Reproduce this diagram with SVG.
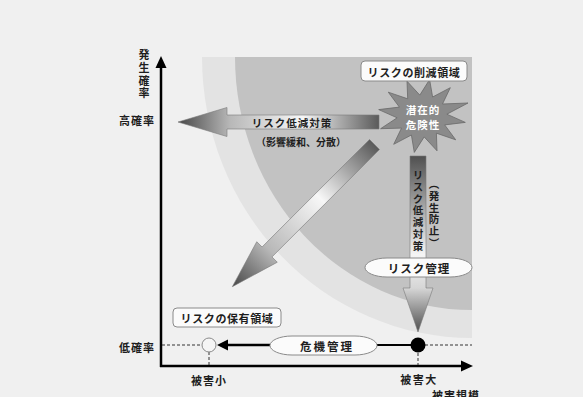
<svg xmlns="http://www.w3.org/2000/svg" width="583" height="397" viewBox="0 0 583 397">
<style>
  text { font-family: "Noto Sans CJK JP", "Noto Sans CJK SC", sans-serif; font-weight: 700; fill: #1e1e1e; font-size: 11px; }
  .c { text-anchor: middle; dominant-baseline: central; }
  .v { writing-mode: vertical-rl; text-anchor: middle; }
  .box { fill: #fbfbfb; stroke: #8a8a8a; stroke-width: 1; }
  .dash { stroke: #333; stroke-width: 1; stroke-dasharray: 3 2; fill: none; }
  .arrow { stroke: #7a7a7a; stroke-width: 0.6; }
</style>
<defs>
  <linearGradient id="gArrow" x1="0" y1="0" x2="1" y2="0">
    <stop offset="0" stop-color="#5a5a5a"/>
    <stop offset="0.38" stop-color="#f7f7f7"/>
    <stop offset="0.74" stop-color="#b8b8b8"/>
    <stop offset="1" stop-color="#474747"/>
  </linearGradient>
  <linearGradient id="gDown" x1="0" y1="0" x2="0" y2="1">
    <stop offset="0" stop-color="#505050"/>
    <stop offset="0.56" stop-color="#f5f5f5"/>
    <stop offset="0.75" stop-color="#d6d6d6"/>
    <stop offset="1" stop-color="#4e4e4e"/>
  </linearGradient>
</defs>
<rect width="583" height="397" fill="#f0f0f0"/>

<g id="zone-bands">
  <path d="M472,57 L202,57 A270,281 0 0 0 472,338 Z" fill="#e3e3e3"/>
  <path d="M472,57 L235,57 A237,253 0 0 0 472,310 Z" fill="#c2c2c2"/>
</g>

<g id="axes">
  <line x1="161" y1="367" x2="161" y2="66" stroke="#000" stroke-width="2.5"/>
  <polygon points="161,56 155.5,68 166.5,68" fill="#000"/>
  <line x1="160" y1="366" x2="463" y2="366" stroke="#000" stroke-width="2.5"/>
  <polygon points="473,366 461,360.5 461,371.5" fill="#000"/>
  <text class="v" x="144" y="75" style="letter-spacing:1.7px">発生確率</text>
  <text class="c" x="137" y="120" style="letter-spacing:1px">高確率</text>
  <text class="c" x="137" y="347" style="letter-spacing:1px">低確率</text>
  <text class="c" x="209" y="380" style="letter-spacing:1px">被害小</text>
  <text class="c" x="419" y="379" style="letter-spacing:1.5px">被害大</text>
  <text class="c" x="456" y="395" style="letter-spacing:1px">被害規模</text>
</g>

<g id="connectors">
  <g id="arrow-left" transform="translate(379,122) rotate(180)">
    <polygon class="arrow" points="0,-7 152,-7 152,-14.5 201,0 152,14.5 152,7 0,7" fill="url(#gArrow)"/>
  </g>
  <g id="arrow-diag" transform="translate(374.5,144.5) rotate(135)">
    <polygon class="arrow" points="0,-7 152,-7 152,-14.5 201,0 152,14.5 152,7 0,7" fill="url(#gArrow)"/>
  </g>
  <polygon id="arrow-down" class="arrow" points="410,156 426,156 426,288 433,288 418,332 403,288 410,288" fill="url(#gDown)"/>
  <line class="dash" x1="162" y1="345" x2="202" y2="345"/>
  <line class="dash" x1="425" y1="345" x2="472" y2="345"/>
  <line class="dash" x1="209" y1="352" x2="209" y2="365"/>
  <line class="dash" x1="418" y1="353" x2="418" y2="365"/>
  <line x1="270" y1="345" x2="226" y2="345" stroke="#000" stroke-width="2.5"/>
  <polygon points="217,345 228,339.5 228,350.5" fill="#000"/>
  <line x1="377" y1="345" x2="412" y2="345" stroke="#000" stroke-width="2"/>
</g>

<g id="arrow-labels">
  <text class="c" x="292" y="122" style="letter-spacing:1px;font-size:10.5px">リスク低減対策</text>
  <text class="c" x="301" y="141" style="font-size:10px">（影響緩和、分散）</text>
  <text class="v" x="418" y="211" style="letter-spacing:1.3px;font-size:10.5px">リスク低減対策</text>
  <text class="v" x="434" y="214" style="letter-spacing:1.2px;font-size:10.5px">（発生防止）</text>
</g>

<g id="hazard">
  <polygon points="429.6,79.6 432.6,97 450.3,87.7 442.5,104 468,103 446.9,114.2 465.3,122.4 444.7,124.9 455.7,139.8 436.4,133.2 437,150.8 424.2,136.9 414.3,152.4 411.4,135 393.7,144.3 401.5,128.1 380.6,128.7 397.1,117.8 378.7,109.6 399.4,107.1 388.3,92.2 407.7,98.8 407,81.2 419.8,95.1" fill="#8a8a8a" stroke="#6a6a6a" stroke-width="0.8"/>
  <text class="c" x="423" y="109" style="fill:#fff;letter-spacing:1px;font-size:10.5px">潜在的</text>
  <text class="c" x="423" y="124" style="fill:#fff;letter-spacing:1px;font-size:10.5px">危険性</text>
</g>

<g id="zone-reduce-label">
  <rect class="box" x="361" y="61" width="106" height="20" rx="4"/>
  <text class="c" x="414" y="71.5" style="letter-spacing:0.6px">リスクの削減領域</text>
</g>

<g id="zone-retain-label">
  <rect class="box" x="173" y="308" width="108" height="19" rx="4"/>
  <text class="c" x="227" y="317.5" style="letter-spacing:0.6px">リスクの保有領域</text>
</g>

<g id="risk-management">
  <rect class="box" x="365" y="258" width="107" height="19" rx="22" ry="9.5"/>
  <text class="c" x="419" y="267.5" style="letter-spacing:1px;font-size:11.5px">リスク管理</text>
</g>

<g id="crisis-management">
  <rect class="box" x="270" y="336" width="107" height="19" rx="22" ry="9.5"/>
  <text class="c" x="327" y="345.5" style="letter-spacing:2px;font-size:11.5px">危機管理</text>
</g>

<g id="point-small">
  <circle cx="209" cy="345" r="7" fill="#f5f5f5" stroke="#8a8a8a" stroke-width="1"/>
</g>
<g id="point-large">
  <circle cx="418" cy="345" r="7.5" fill="#000"/>
</g>
</svg>
